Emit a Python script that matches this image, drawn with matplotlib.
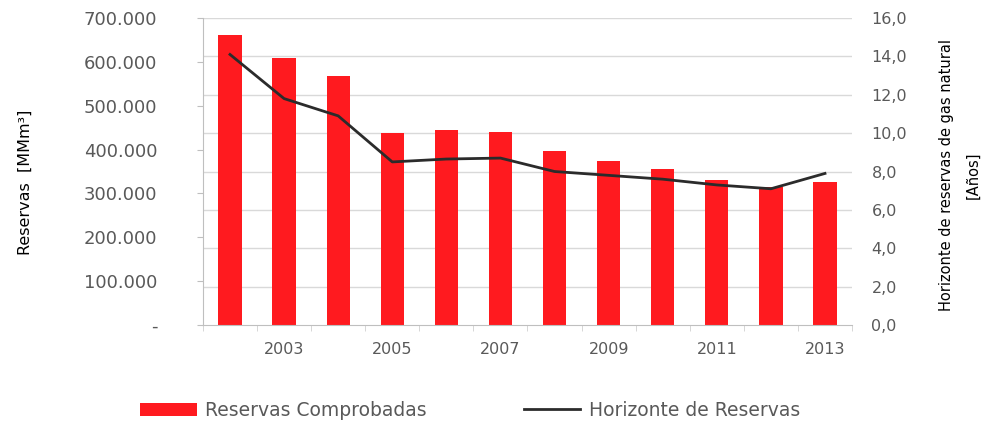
import numpy as np
import matplotlib.pyplot as plt
from matplotlib.ticker import FuncFormatter, MultipleLocator

years = [2002, 2003, 2004, 2005, 2006, 2007, 2008, 2009, 2010, 2011, 2012, 2013]
reservas = [661000, 609000, 568000, 437000, 445000, 440000, 397000, 375000, 356000, 331000, 315000, 326000]
horizonte = [14.1, 11.8, 10.9, 8.5, 8.65, 8.7, 8.0, 7.8, 7.6, 7.3, 7.1, 7.9]
year_labels = ['' if y % 2 == 0 else str(y) for y in years]

grey_txt = '#595959'
narrow = ['Liberation Sans Narrow', 'DejaVu Sans']

fig = plt.figure(figsize=(9.92, 4.26), dpi=100)
ax = fig.add_axes([0.2046, 0.2371, 0.6543, 0.7206])
ax2 = ax.twinx()

x = np.arange(len(years))
left_max, right_max = 700000, 16.0

ax.set_xlim(-0.5, len(years) - 0.5)
ax.set_ylim(0, left_max)
ax2.set_ylim(0, right_max)

# horizontal grid follows the right axis, drawn under the bars
right_ticks = np.arange(0, right_max + 0.1, 2.0)
for v in right_ticks[1:]:
    ax.axhline(v * left_max / right_max, color='#d9d9d9', lw=1.0, zorder=0)

ax.bar(x, reservas, width=0.43, color='#ff1a1f', zorder=2, label='Reservas Comprobadas')
ax2.plot(x, horizonte, color='#2b2b2b', lw=2.0, zorder=3, label='Horizonte de Reservas')

# left axis: thousands with dots, zero shown as a dash
def miles(v, pos):
    if v == 0:
        return '-'
    return '{:,.0f}'.format(v).replace(',', '.')

ax.yaxis.set_major_locator(MultipleLocator(100000))
ax.yaxis.set_major_formatter(FuncFormatter(miles))
ax.tick_params(axis='y', length=4, color='#bfbfbf', labelcolor=grey_txt, labelsize=13, pad=29)

ax2.set_yticks(right_ticks)
ax2.yaxis.set_major_formatter(FuncFormatter(lambda v, p: '{:.1f}'.format(v).replace('.', ',')))
ax2.tick_params(axis='y', length=0, labelcolor=grey_txt, labelsize=11.5, pad=14)

ax.set_xticks(x)
ax.set_xticklabels(year_labels)
ax.set_xticks(np.arange(-0.5, len(years), 1.0), minor=True)
ax.tick_params(axis='x', which='major', length=0, labelcolor=grey_txt, labelsize=11.5, pad=12)
ax.tick_params(axis='x', which='minor', length=4, color='#d0d0d0')

for a in (ax, ax2):
    for s in ('top', 'right', 'left', 'bottom'):
        a.spines[s].set_visible(False)
ax.spines['left'].set_visible(True)
ax.spines['left'].set_color('#bfbfbf')
ax.spines['bottom'].set_visible(True)
ax.spines['bottom'].set_color('#bfbfbf')

fig.text(0.026, 0.573, 'Reservas  [MMm³]', rotation=90, ha='center', va='center',
         fontsize=11.5, family=narrow, color='black')
fig.text(0.954, 0.589, 'Horizonte de reservas de gas natural', rotation=90, ha='center',
         va='center', fontsize=10.5, family=narrow, color='black')
fig.text(0.981, 0.589, '[Años]', rotation=90, ha='center', va='center',
         fontsize=10.5, family=narrow, color='black')

h1, l1 = ax.get_legend_handles_labels()
h2, l2 = ax2.get_legend_handles_labels()
leg = fig.legend(h1 + h2, l1 + l2, loc='center', bbox_to_anchor=(0.474, 0.037), ncol=2,
                 frameon=False, fontsize=13.5, handlelength=3.0, handleheight=0.7,
                 handletextpad=0.45, columnspacing=5.2)
for t in leg.get_texts():
    t.set_color(grey_txt)

fig.savefig('out.png', dpi=100)
